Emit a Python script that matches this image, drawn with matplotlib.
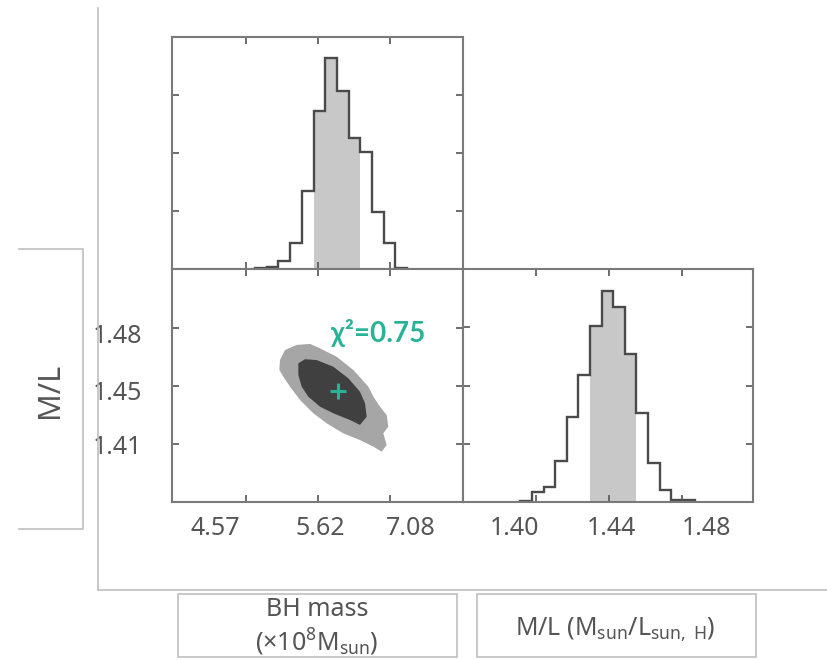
import numpy as np
import matplotlib
matplotlib.use('Agg')
import matplotlib.pyplot as plt
from matplotlib.lines import Line2D
from matplotlib.patches import Rectangle

plt.rcParams['font.family'] = ['Noto Sans', 'DejaVu Sans']
plt.rcParams['mathtext.fontset'] = 'custom'
plt.rcParams['mathtext.rm'] = 'Noto Sans'
plt.rcParams['mathtext.it'] = 'Noto Sans:italic'
plt.rcParams['mathtext.bf'] = 'Noto Sans:bold'

# ---- data ----
# BH mass posterior, x in log10(M / 1e8 Msun)
mass_edges = [0.6625, 0.6788, 0.6950, 0.7113, 0.7275, 0.7438, 0.7600, 0.7763,
              0.7925, 0.8088, 0.8250, 0.8413, 0.8575, 0.8738]
mass_counts = [0.01, 0.03, 0.14, 0.44, 1.34, 2.72, 3.63, 3.07, 2.26, 2.02, 0.99, 0.44, 0.02]
mass_shade = (5, 9)  # shaded bins (1 sigma)

# M/L posterior
ml_edges = [1.3916, 1.3980, 1.4044, 1.4107, 1.4171, 1.4235, 1.4298, 1.4362, 1.4426,
            1.4489, 1.4553, 1.4617, 1.4680, 1.4744, 1.4808, 1.4871]
ml_counts = [0.02, 0.17, 0.26, 0.71, 1.46, 2.18, 3.03, 3.63, 3.35, 2.54, 1.52, 0.67, 0.21, 0.03, 0.03]
ml_shade = (6, 10)

# joint contours (outer = 3 sigma, inner = 1 sigma)
outer_x = [0.6972, 0.7042, 0.7204, 0.7389, 0.7528, 0.7759, 0.7991, 0.8199, 0.8269, 0.8361,
           0.8454, 0.8476, 0.8407, 0.8454, 0.8385, 0.8269, 0.8083, 0.7851, 0.7620, 0.7435,
           0.7250, 0.7111, 0.7018, 0.6963]
outer_y = [1.4658, 1.4719, 1.4750, 1.4756, 1.4729, 1.4678, 1.4597, 1.4496, 1.4435, 1.4374,
           1.4323, 1.4252, 1.4212, 1.4141, 1.4100, 1.4131, 1.4171, 1.4212, 1.4273, 1.4334,
           1.4415, 1.4496, 1.4557, 1.4597]
inner_x = [0.7227, 0.7319, 0.7481, 0.7713, 0.7921, 0.8083, 0.8153, 0.8176, 0.8083, 0.7944,
           0.7713, 0.7528, 0.7365, 0.7273, 0.7227]
inner_y = [1.4638, 1.4663, 1.4658, 1.4617, 1.4547, 1.4465, 1.4395, 1.4313, 1.4263, 1.4293,
           1.4334, 1.4374, 1.4435, 1.4496, 1.4567]
best_x, best_y = 0.7782, 1.4471
chi2_label = 'χ²=0.75'

# ticks and labels
mass_ticks = [0.65, 0.75, 0.85]
mass_labels = ['4.57', '5.62', '7.08']
mass_label_pos = [0.607, 0.753, 0.879]
ml_y_ticks = [1.415, 1.45, 1.485]
ml_y_labels = ['1.41', '1.45', '1.48']
ml_y_label_pos = [1.4123, 1.4457, 1.4804]
ml_x_ticks = [1.40, 1.44, 1.48]
ml_x_labels = ['1.40', '1.44', '1.48']
ml_x_label_pos = [1.3887, 1.4416, 1.4935]
hist_ticks = [1, 2, 3]

GREEN = '#27b398'
TXT = '#555555'
FRAME = '#7a7a7a'
LINE = '#bfbfbf'
FS = 18

W, H = 827, 660
fig = plt.figure(figsize=(W / 100, H / 100), dpi=100)


def rect(x0, y0, x1, y1):
    # pixel box (top-left origin) -> figure fraction [l, b, w, h]
    return [x0 / W, 1 - y1 / H, (x1 - x0) / W, (y1 - y0) / H]


def style(ax):
    for s in ax.spines.values():
        s.set_color(FRAME)
        s.set_linewidth(1.5)
    ax.tick_params(direction='in', length=5, width=1.2, color=TXT,
                   top=True, right=True, labelbottom=False, labelleft=False)


ax_top = fig.add_axes(rect(172, 37, 463, 269))
ax_mid = fig.add_axes(rect(172, 269, 463, 502))
ax_rgt = fig.add_axes(rect(463, 269, 753, 502))

xlim_mass = (0.5472, 0.9514)
ylim_ml = (1.3794, 1.5212)

# top histogram
a, b = mass_shade
ax_top.stairs(mass_counts[a:b], mass_edges[a:b + 1], fill=True, color='#c8c8c8', lw=0)
ax_top.stairs(mass_counts, mass_edges, color='#4a4a4a', lw=1.7)
ax_top.set_xlim(*xlim_mass)
ax_top.set_ylim(0, 4)
ax_top.set_xticks(mass_ticks)
ax_top.set_yticks(hist_ticks)
style(ax_top)

# joint panel
ax_mid.fill(outer_x, outer_y, color='#a6a6a6', lw=0)
ax_mid.fill(inner_x, inner_y, color='#404040', lw=0)
ax_mid.plot(best_x, best_y, marker='+', ms=12, mew=2.2, color=GREEN)
ax_mid.text(0.768, 1.4821, chi2_label, color=GREEN, fontsize=20, fontweight='bold',
            family=['Lato', 'DejaVu Sans'], ha='left', va='center')
ax_mid.set_xlim(*xlim_mass)
ax_mid.set_ylim(*ylim_ml)
ax_mid.set_xticks(mass_ticks)
ax_mid.set_yticks(ml_y_ticks)
style(ax_mid)
for xp, lab in zip(mass_label_pos, mass_labels):
    ax_mid.text(xp, -0.112, lab, transform=ax_mid.get_xaxis_transform(),
                ha='center', va='center', fontsize=FS, color=TXT)
for yp, lab in zip(ml_y_label_pos, ml_y_labels):
    ax_mid.text(-0.103, yp, lab, transform=ax_mid.get_yaxis_transform(),
                ha='right', va='center', fontsize=FS, color=TXT)

# right histogram
a, b = ml_shade
ax_rgt.stairs(ml_counts[a:b], ml_edges[a:b + 1], fill=True, color='#c8c8c8', lw=0)
ax_rgt.stairs(ml_counts, ml_edges, color='#4a4a4a', lw=1.7)
ax_rgt.set_xlim(1.3603, 1.5191)
ax_rgt.set_ylim(0, 4)
ax_rgt.set_xticks(ml_x_ticks)
ax_rgt.set_yticks(hist_ticks)
style(ax_rgt)
for xp, lab in zip(ml_x_label_pos, ml_x_labels):
    ax_rgt.text(xp, -0.112, lab, transform=ax_rgt.get_xaxis_transform(),
                ha='center', va='center', fontsize=FS, color=TXT)


# decorations: outer frame lines and label boxes
def pline(xs, ys, color=LINE, lw=1.2):
    fig.add_artist(Line2D([x / W for x in xs], [1 - y / H for y in ys],
                          transform=fig.transFigure, color=color, lw=lw))


pline([98, 98], [8, 590])
pline([98, 827], [590, 590])
pline([19, 83, 83, 19], [249, 249, 529, 529])

for x0, y0, x1, y1 in [(178, 594, 457, 657), (477, 594, 756, 657)]:
    fig.add_artist(Rectangle((x0 / W, 1 - y1 / H), (x1 - x0) / W, (y1 - y0) / H,
                             transform=fig.transFigure, fill=False, ec=LINE, lw=1.2))

fig.text(50 / W, 1 - 390 / H, 'M/L', rotation=90, ha='center', va='center',
         fontsize=22, color=TXT)
fig.text(317 / W, 1 - 609 / H, 'BH mass', ha='center', va='center', fontsize=FS, color=TXT)
fig.text(317 / W, 1 - 642 / H, r'($\times$10$^{8}$M$_{\rm sun}$)', ha='center', va='center',
         fontsize=FS, color=TXT)
fig.text(615 / W, 1 - 630 / H, r'M/L (M$_{\rm sun}$/L$_{\rm sun,\ H}$)', ha='center',
         va='center', fontsize=FS, color=TXT)

fig.savefig('out.png', dpi=100)
